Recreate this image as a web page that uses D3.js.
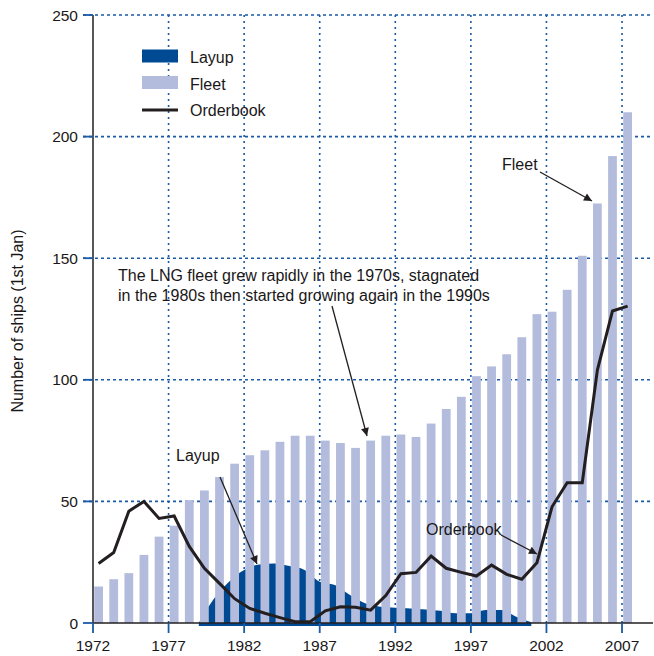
<!DOCTYPE html>
<html><head><meta charset="utf-8">
<script src="https://cdn.jsdelivr.net/npm/d3@7"></script>
<style>
html,body{margin:0;padding:0;background:#fff;}
svg text{font-family:"Liberation Sans",Arial,sans-serif;fill:#1a1718;}
</style></head>
<body><svg id="c" width="654" height="656"></svg>
<script>
// ---- data ----
const years = [1972,1973,1974,1975,1976,1977,1978,1979,1980,1981,1982,1983,1984,1985,1986,1987,1988,1989,1990,1991,1992,1993,1994,1995,1996,1997,1998,1999,2000,2001,2002,2003,2004,2005,2006,2007];
const fleet = [15,18,20.5,28,35.5,40,50.5,54.5,60,65.5,69,71,74.5,77,77,75,74,72,75,77,77.5,76.5,82,88,93,101.5,105.5,110.5,117.5,127,128,137,151,172.5,192,210];
const orderbook = [24.5,29,46,50,43,44,31.5,22.5,16.3,10,6,4,2.2,0.5,0.5,5,6.7,6.5,5.3,11.3,20.3,20.8,27.5,22.5,20.8,19.3,23.8,20,18,24.8,47.8,57.7,57.7,104,128.3,130.3];
const layupYears = [1979,1980,1981,1982,1983,1984,1985,1986,1987,1988,1989,1990,1991,1992,1993,1994,1995,1996,1997,1998,1999,2000,2001];
const layup = [0,10,17,21.8,24.1,24.5,23.4,21.8,17,15.6,11.5,8.1,6.7,6.3,6,5.6,5,4,4,5.3,5.3,2.6,0.3];
const xTicks = [1972,1977,1982,1987,1992,1997,2002,2007];
const yTicks = [0,50,100,150,200,250];

const C = {fleet:"#b3bcdc", layup:"#004a93", grid:"#1a5aa6", line:"#231f20"};

const svg = d3.select("#c");
const x = d3.scaleLinear().domain([1972, 2009.05]).range([93, 653]);
const y = d3.scaleLinear().domain([0, 250]).range([623, 15]);

// grid
const g = svg.append("g");
g.selectAll(".hg").data(yTicks.filter(v=>v>0)).join("line")
  .attr("x1", 83).attr("x2", 653).attr("y1", d=>y(d)).attr("y2", d=>y(d))
  .attr("stroke", C.grid).attr("stroke-width", 1.6).attr("stroke-dasharray","3,3");
g.selectAll(".vg").data(xTicks.slice(1)).join("line")
  .attr("x1", d=>x(d)).attr("x2", d=>x(d)).attr("y1", y(250)).attr("y2", y(0))
  .attr("stroke", C.grid).attr("stroke-width", 1.6).attr("stroke-dasharray","2,4");

// layup area
const area = d3.area().curve(d3.curveMonotoneX)
  .x((d,i)=>x(layupYears[i])).y0(y(0)+3).y1(d=>y(d));
svg.append("path").datum(layup).attr("d", area).attr("fill", C.layup);

// fleet bars
svg.append("g").selectAll("rect").data(fleet).join("rect")
  .attr("x", (d,i)=>x(years[i]+0.08))
  .attr("width", (d,i)=>x(years[i]+0.66)-x(years[i]+0.08))
  .attr("y", d=>y(d)).attr("height", d=>y(0)-y(d))
  .attr("fill", C.fleet);

// orderbook line
const line = d3.line().x((d,i)=>x(years[i]+0.37)).y(d=>y(d));
svg.append("path").datum(orderbook).attr("d", line)
  .attr("fill","none").attr("stroke", C.line).attr("stroke-width", 3).attr("stroke-linejoin","miter");

// axes
svg.append("line").attr("x1", x(1972)).attr("x2", x(1972)).attr("y1", y(250)).attr("y2", y(0))
  .attr("stroke", C.line).attr("stroke-width", 1.5);
svg.append("line").attr("x1", x(1972)).attr("x2", 653).attr("y1", y(0)).attr("y2", y(0))
  .attr("stroke", C.line).attr("stroke-width", 1.5);
// y ticks
svg.selectAll(".yt").data(yTicks).join("line")
  .attr("x1", 83).attr("x2", x(1972)).attr("y1", d=>y(d)).attr("y2", d=>y(d))
  .attr("stroke", C.grid).attr("stroke-width", 1.8);
svg.selectAll(".ytl").data(yTicks).join("text")
  .attr("x", 78).attr("y", d=>y(d)+5.5).attr("text-anchor","end")
  .attr("font-size", 15.5).text(d=>d);
// x ticks
svg.selectAll(".xt").data(xTicks).join("line")
  .attr("x1", d=>x(d)).attr("x2", d=>x(d)).attr("y1", y(0)).attr("y2", y(0)+10)
  .attr("stroke", C.grid).attr("stroke-width", 1.8);
svg.selectAll(".xtl").data(xTicks).join("text")
  .attr("x", d=>x(d)).attr("y", 651).attr("text-anchor","middle")
  .attr("font-size", 15.5).text(d=>d);

// y label
svg.append("text").attr("transform","translate(23,321) rotate(-90)")
  .attr("text-anchor","middle").attr("font-size", 16).text("Number of ships (1st Jan)");

// legend
const leg = svg.append("g");
leg.append("rect").attr("x",142).attr("y",49.5).attr("width",36).attr("height",13).attr("fill",C.layup);
leg.append("rect").attr("x",142).attr("y",76).attr("width",36).attr("height",13).attr("fill",C.fleet);
leg.append("line").attr("x1",142).attr("x2",178).attr("y1",110).attr("y2",110).attr("stroke",C.line).attr("stroke-width",3);
[["Layup",63],["Fleet",90],["Orderbook",116]].forEach(([t,yy])=>{
  leg.append("text").attr("x",190).attr("y",yy).attr("font-size",16).text(t);
});

// annotations
const defs = svg.append("defs");
defs.append("marker").attr("id","ah").attr("viewBox","0 0 10 10").attr("refX",10).attr("refY",5)
  .attr("markerWidth",10).attr("markerHeight",8).attr("markerUnits","userSpaceOnUse").attr("orient","auto")
  .append("path").attr("d","M0,0L10,5L0,10z").attr("fill",C.line);

function arrow(x1,y1,x2,y2){
  svg.append("line").attr("x1",x1).attr("y1",y1).attr("x2",x2).attr("y2",y2)
    .attr("stroke",C.line).attr("stroke-width",1.3).attr("marker-end","url(#ah)");
}
const ann = svg.append("g");
ann.append("text").attr("x",118).attr("y",281).attr("font-size",16).text("The LNG fleet grew rapidly in the 1970s, stagnated");
ann.append("text").attr("x",118).attr("y",300.5).attr("font-size",16).text("in the 1980s then started growing again in the 1990s");
arrow(332,306,367,436);
ann.append("text").attr("x",176).attr("y",461).attr("font-size",16).text("Layup");
arrow(220,477,257,564);
ann.append("text").attr("x",502).attr("y",170).attr("font-size",16).text("Fleet");
arrow(540,172,592,201);
ann.append("text").attr("x",426).attr("y",535).attr("font-size",16).text("Orderbook");
arrow(501,535,537,554);
</script></body></html>
